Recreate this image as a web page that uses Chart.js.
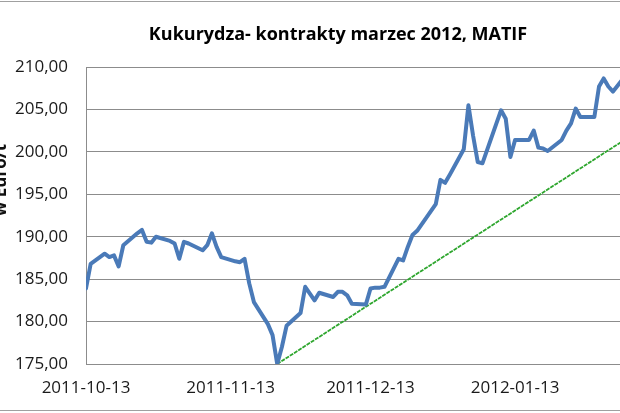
<!DOCTYPE html>
<html>
<head>
<meta charset="utf-8">
<script src="https://cdn.jsdelivr.net/npm/chart.js@4.4.1/dist/chart.umd.min.js"></script>
<style>
  html, body { margin: 0; padding: 0; background: #fff; overflow: hidden; }
  body { width: 620px; height: 413px; position: relative; }
  #frame { position: absolute; left: -12px; top: 1px; width: 698px; height: 408px; border: 1px solid #a0a0a0; }
  canvas { display: block; }
</style>
</head>
<body>
<div id="frame"><canvas id="cornChart" width="698" height="408"></canvas></div>
<script>
// notowania MATIF, kukurydza marzec 2012 (odczyt z wykresu)
const dates = [
  '2011-10-13', '2011-10-14', '2011-10-17', '2011-10-18', '2011-10-19', '2011-10-20', '2011-10-21',
  '2011-10-24', '2011-10-25', '2011-10-26', '2011-10-27', '2011-10-28', '2011-10-31',
  '2011-11-01', '2011-11-02', '2011-11-03', '2011-11-04', '2011-11-07', '2011-11-08', '2011-11-09',
  '2011-11-10', '2011-11-11', '2011-11-14', '2011-11-15', '2011-11-16', '2011-11-17', '2011-11-18',
  '2011-11-21', '2011-11-22', '2011-11-23', '2011-11-24', '2011-11-25', '2011-11-28', '2011-11-29',
  '2011-11-30', '2011-12-01', '2011-12-02', '2011-12-05', '2011-12-06', '2011-12-07', '2011-12-08',
  '2011-12-09', '2011-12-12', '2011-12-13', '2011-12-14', '2011-12-15', '2011-12-16', '2011-12-19',
  '2011-12-20', '2011-12-21', '2011-12-22', '2011-12-23', '2011-12-27', '2011-12-28', '2011-12-29',
  '2011-12-30', '2012-01-02', '2012-01-03', '2012-01-04', '2012-01-05', '2012-01-06', '2012-01-09',
  '2012-01-10', '2012-01-11', '2012-01-12', '2012-01-13', '2012-01-16', '2012-01-17', '2012-01-18',
  '2012-01-19', '2012-01-20', '2012-01-23', '2012-01-24', '2012-01-25', '2012-01-26', '2012-01-27',
  '2012-01-30', '2012-01-31', '2012-02-01', '2012-02-02', '2012-02-03', '2012-02-06'
];
const prices = [
  183.9, 186.8, 188.0, 187.6, 187.8, 186.5, 189.0,
  190.4, 190.8, 189.4, 189.3, 190.0, 189.5,
  189.2, 187.4, 189.4, 189.2, 188.4, 189.0, 190.4,
  188.8, 187.6, 187.1, 187.0, 187.4, 184.5, 182.3,
  179.7, 178.4, 175.0, 177.0, 179.5, 181.0, 184.1,
  183.3, 182.5, 183.4, 182.9, 183.5, 183.5, 183.1,
  182.1, 182.0, 183.9, 184.0, 184.0, 184.1, 187.4,
  187.2, 188.8, 190.2, 190.7, 193.85, 196.7, 196.35,
  197.3, 200.3, 205.5, 201.9, 198.8, 198.65, 203.35,
  204.9, 203.9, 199.4, 201.4, 201.4, 202.5, 200.5,
  200.4, 200.1, 201.4, 202.5, 203.35, 205.1, 204.1,
  204.1, 207.7, 208.65, 207.7, 207.1, 209.2
];
// linia trendu (od dołka)
const trendDates = ['2011-11-23', '2012-02-06'];
const trendValues = [175.0, 201.6];

const xTickLabels = ['2011-10-13', '2011-11-13', '2011-12-13', '2012-01-13'];
const yTicks = [175, 180, 185, 190, 195, 200, 205, 210];
const chartTitle = 'Kukurydza- kontrakty marzec 2012, MATIF';
const yTitle = 'w Euro/t';

const startTime = Date.parse(dates[0]);
function dayOf(d) {
    return Math.round((Date.parse(d) - startTime) / 86400000);
}
const xTickDays = xTickLabels.map(dayOf);

// tytuł wykresu i osi rysowane ręcznie (wykres jest przycięty z obu stron)
const textPlugin = {
    id: 'chartTexts',
    afterDraw(chart) {
        const ctx = chart.ctx;
        ctx.save();
        ctx.font = 'bold 18px "Open Sans"';
        ctx.fillStyle = '#000';
        ctx.textAlign = 'center';
        ctx.textBaseline = 'middle';
        ctx.fillText(chartTitle, chart.width / 2, 33);

        ctx.translate(12, 178);
        ctx.rotate(-Math.PI / 2);
        ctx.font = 'bold 17px "Open Sans"';
        ctx.fillStyle = '#111';
        ctx.fillText(yTitle, 0, 0);
        ctx.restore();
    }
};

Chart.defaults.font.family = "'Open Sans', sans-serif";

const ctx = document.getElementById('cornChart').getContext('2d');
const cornChart = new Chart(ctx, {
    type: 'line',
    data: {
        datasets: [{
            label: 'Kukurydza',
            data: dates.map((d, i) => ({ x: dayOf(d), y: prices[i] })),
            borderColor: '#4a7ab8',
            borderWidth: 4,
            pointRadius: 0,
            tension: 0,
            borderJoinStyle: 'round',
            borderCapStyle: 'round'
        }, {
            label: 'Trend',
            data: trendDates.map((d, i) => ({ x: dayOf(d), y: trendValues[i] })),
            borderColor: '#2ea62e',
            borderWidth: 1.8,
            borderDash: [4, 1],
            pointRadius: 0,
            tension: 0
        }]
    },
    options: {
        responsive: false,
        animation: false,
        layout: {
            padding: { left: 0, right: 60, top: 65, bottom: 0 }
        },
        plugins: {
            legend: { display: false },
            tooltip: { enabled: false },
            title: { display: false }
        },
        scales: {
            x: {
                type: 'linear',
                min: 0,
                max: dayOf(dates[dates.length - 1]),
                afterBuildTicks: function(scale) {
                    scale.ticks = xTickDays.map(v => ({ value: v }));
                },
                afterFit: function(scale) {
                    scale.height = 46;
                },
                grid: { display: false, drawTicks: false },
                border: { display: true, color: '#8c8c8c', width: 1 },
                ticks: {
                    autoSkip: false,
                    maxRotation: 0,
                    padding: 14,
                    color: '#1a1a1a',
                    font: { size: 17 },
                    callback: function(value) {
                        return xTickLabels[xTickDays.indexOf(value)];
                    }
                }
            },
            y: {
                min: yTicks[0],
                max: yTicks[yTicks.length - 1],
                afterBuildTicks: function(scale) {
                    scale.ticks = yTicks.map(v => ({ value: v }));
                },
                afterFit: function(scale) {
                    scale.width = 97;
                },
                grid: { color: '#8c8c8c', lineWidth: 1, drawTicks: false },
                border: { display: true, color: '#8c8c8c', width: 1 },
                ticks: {
                    padding: 18,
                    color: '#1a1a1a',
                    font: { size: 17 },
                    callback: function(value) {
                        return value.toFixed(2).replace('.', ',');
                    }
                }
            }
        }
    },
    plugins: [textPlugin]
});
</script>
</body>
</html>
